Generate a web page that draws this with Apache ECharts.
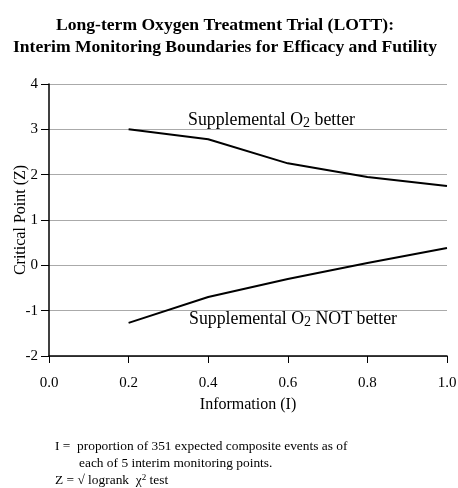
<!DOCTYPE html>
<html>
<head>
<meta charset="utf-8">
<script src="https://cdn.jsdelivr.net/npm/echarts@6/dist/echarts.min.js"></script>
<style>
  html, body { margin: 0; padding: 0; background: #fff; }
  #chart { width: 458px; height: 488px; }
</style>
</head>
<body>
<div id="chart"></div>
<script>
// information fraction at each interim look
var info = [0.2, 0.4, 0.6, 0.8, 1.0];
// efficacy boundary (supplemental O2 better)
var efficacy = [3.0, 2.78, 2.25, 1.95, 1.75];
// futility boundary (supplemental O2 NOT better)
var futility = [-1.27, -0.7, -0.3, 0.05, 0.38];
var yTicks = [-2, -1, 0, 1, 2, 3, 4];

var serif = '"Liberation Serif", "DejaVu Serif", serif';

function pairs(xs, ys) {
    return xs.map(function (x, i) { return [x, ys[i]]; });
}

var labelRich = {
    a: { fontFamily: serif, fontSize: 17.8, fill: '#000' },
    s: { fontFamily: serif, fontSize: 14, fill: '#000', padding: [7, 0, 0, 0] }
};

var myChart = echarts.init(document.getElementById('chart'));
myChart.setOption({
    animation: false,
    title: {
        text: 'Long-term Oxygen Treatment Trial (LOTT):\nInterim Monitoring Boundaries for Efficacy and Futility',
        left: 220,
        textAlign: 'center',
        top: 9,
        textStyle: {
            fontFamily: serif,
            fontWeight: 'bold',
            fontSize: 17.6,
            lineHeight: 22,
            color: '#000'
        }
    },
    grid: {
        left: 49,
        right: 11,
        top: 84,
        bottom: 132,
        containLabel: false,
        outerBoundsMode: 'none'
    },
    xAxis: {
        type: 'value',
        min: 0,
        max: 1,
        interval: 0.2,
        name: 'Information (I)',
        nameLocation: 'middle',
        nameGap: 41,
        nameMoveOverlap: false,
        nameTextStyle: { fontFamily: serif, fontSize: 16, color: '#000' },
        axisLine: { onZero: false, lineStyle: { color: '#000', width: 1.5 } },
        axisTick: { length: 7, lineStyle: { color: '#000' } },
        axisLabel: {
            fontFamily: serif, fontSize: 15, color: '#000', margin: 20,
            formatter: function (v) { return v.toFixed(1); }
        },
        splitLine: { show: false }
    },
    yAxis: {
        type: 'value',
        min: yTicks[0],
        max: yTicks[yTicks.length - 1],
        interval: 1,
        name: 'Critical Point (Z)',
        nameLocation: 'middle',
        nameGap: 20,
        nameMoveOverlap: false,
        nameTextStyle: { fontFamily: serif, fontSize: 16, color: '#000' },
        axisLine: { show: true, onZero: false, lineStyle: { color: '#000', width: 1.5 } },
        axisTick: { show: true, length: 8, lineStyle: { color: '#000' } },
        axisLabel: { fontFamily: serif, fontSize: 15, color: '#000', margin: 11 },
        splitLine: { lineStyle: { color: '#aaa', width: 1 } }
    },
    series: [
        {
            type: 'line',
            data: pairs(info, efficacy),
            showSymbol: false,
            lineStyle: { color: '#000', width: 2 }
        },
        {
            type: 'line',
            data: pairs(info, futility),
            showSymbol: false,
            lineStyle: { color: '#000', width: 2 }
        }
    ],
    graphic: [
        {
            type: 'text', left: 188, top: 111,
            style: { text: '{a|Supplemental O}{s|2}{a| better}', rich: labelRich }
        },
        {
            type: 'text', left: 189, top: 310,
            style: { text: '{a|Supplemental O}{s|2}{a| NOT better}', rich: labelRich }
        },
        {
            type: 'text', left: 55, top: 440,
            style: { text: 'I =  proportion of 351 expected composite events as of', font: '13.4px ' + serif, fill: '#000' }
        },
        {
            type: 'text', left: 79, top: 457,
            style: { text: 'each of 5 interim monitoring points.', font: '13.4px ' + serif, fill: '#000' }
        },
        {
            type: 'text', left: 55, top: 473,
            style: {
                text: '{a|Z = √ logrank  χ}{s|2}{a| test}',
                rich: {
                    a: { fontFamily: serif, fontSize: 13.4, fill: '#000' },
                    s: { fontFamily: serif, fontSize: 9, fill: '#000', padding: [0, 0, 6, 0] }
                }
            }
        }
    ]
});
</script>
</body>
</html>
